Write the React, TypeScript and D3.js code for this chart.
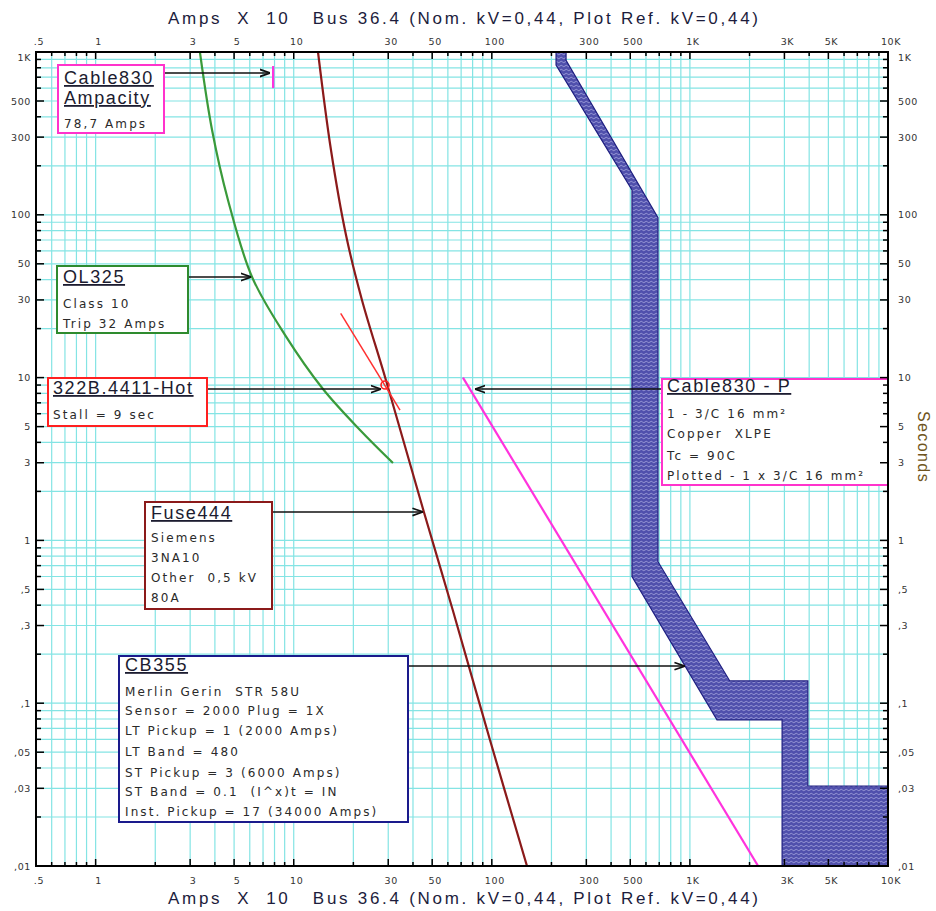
import React from 'react'
import * as d3 from 'd3'

// axis ticks
const xTickValues = [0.5, 1, 3, 5, 10, 30, 50, 100, 300, 500, 1000, 3000, 5000, 10000]
const xTickLabels = ['.5', '1', '3', '5', '10', '30', '50', '100', '300', '500', '1K', '3K', '5K', '10K']
const yTickValues = [1000, 500, 300, 100, 50, 30, 10, 5, 3, 1, 0.5, 0.3, 0.1, 0.05, 0.03, 0.01]
const yTickLabels = ['1K', '500', '300', '100', '50', '30', '10', '5', '3', '1', ',5', ',3', ',1', ',05', ',03', ',01']

// curves: [amps x10, seconds]
const ol325 = [
  [3.36, 1000], [3.87, 332], [4.66, 123], [6.16, 41.5], [9.03, 18.3],
  [14.05, 8.51], [21.6, 4.77], [31.7, 2.99]
]
const fuse444 = [
  [13.26, 1000], [15.42, 250], [18.36, 75.1], [22.1, 30], [29.2, 9.67],
  [45.4, 1.495], [63.5, 0.374], [97.9, 0.0594], [150.5, 0.01]
]
const stallLine = [[17.26, 24.8], [34.4, 6.32]]
const stallPoint = [28.9, 9]
const cableDamage = [[71.5, 10], [2210, 0.01]]
const cableAmpacity = [[7.87, 820], [7.87, 600]]
const cbMin = [[211, 1000], [211, 830], [510, 142], [510, 0.6], [1370, 0.079], [2920, 0.079], [2920, 0.01]]
const cbMax = [[237, 1000], [237, 890], [690, 96], [690, 0.74], [1590, 0.137], [3940, 0.137], [3940, 0.031], [10000, 0.031], [10000, 0.01]]

const titleText = 'Amps  X  10   Bus 36.4 (Nom. kV=0,44, Plot Ref. kV=0,44)'

// annotation boxes
const notes = [
  { box: [58, 65, 106, 68], color: '#ff33cc', tx: 64, titles: ['Cable830', 'Ampacity'], titleY: [84, 104], lines: ['78,7 Amps'], lineY: [128], target: [7.59, 743], from: 'right' },
  { box: [57, 266, 131, 67], color: '#2e8b2e', tx: 63, titles: ['OL325'], titleY: [283], lines: ['Class 10', 'Trip 32 Amps'], lineY: [308, 328], target: [6.1, 41.5], from: 'right' },
  { box: [48, 378, 159, 48], color: '#ff2020', tx: 53, titles: ['322B.4411-Hot'], titleY: [394], lines: ['Stall = 9 sec'], lineY: [419], target: [27.6, 8.5], from: 'right' },
  { box: [145, 502, 127, 107], color: '#8b1a1a', tx: 151, titles: ['Fuse444'], titleY: [519], lines: ['Siemens', '3NA10', 'Other  0,5 kV', '80A'], lineY: [542, 562, 582, 602], target: [44.9, 1.495], from: 'right' },
  { box: [119, 656, 289, 166], color: '#1a1a8c', tx: 125, titles: ['CB355'], titleY: [671], lines: ['Merlin Gerin  STR 58U', 'Sensor = 2000 Plug = 1X', 'LT Pickup = 1 (2000 Amps)', 'LT Band = 480', 'ST Pickup = 3 (6000 Amps)', 'ST Band = 0.1  (I^x)t = IN', 'Inst. Pickup = 17 (34000 Amps)'], lineY: [696, 715, 735, 756, 777, 796, 816], target: [944, 0.169], from: 'right' },
  { box: [662, 379, 226, 106], color: '#ff33cc', tx: 667, titles: ['Cable830 - P'], titleY: [392], lines: ['1 - 3/C 16 mm²', 'Copper  XLPE', 'Tc = 90C', 'Plotted - 1 x 3/C 16 mm²'], lineY: [418, 438, 460, 480], target: [82.2, 8.5], from: 'left' }
]

const minorSteps = (lo: number, hi: number) => {
  const out: number[] = []
  for (let e = -3; e <= 5; e++) {
    for (let m = 1; m <= 9; m++) {
      const v = m * Math.pow(10, e)
      if (v >= lo * 0.999 && v <= hi * 1.001) out.push(+v.toPrecision(3))
    }
  }
  return out
}

export default function App() {
  const W = 936
  const H = 911
  const left = 36, right = 888, top = 52, bottom = 866
  const x = d3.scaleLog().domain([0.5, 10000]).range([left, right])
  const y = d3.scaleLog().domain([0.01, 1000]).range([bottom, top])

  const xMinor = minorSteps(0.5, 10000)
  const yMinor = minorSteps(0.01, 1000)

  const curve = d3.line<number[]>().x(d => x(d[0])).y(d => y(d[1])).curve(d3.curveCatmullRom.alpha(0.5))
  const straight = d3.line<number[]>().x(d => x(d[0])).y(d => y(d[1]))

  const bandPts = [...cbMin, ...cbMax.slice().reverse()]
  const bandPath = straight(bandPts) + 'Z'

  const gridColor = '#84e4e4'
  const textColor = '#2a2a2a'
  const detailFont = '"DejaVu Sans", sans-serif'
  const titleFont = '"Liberation Sans", Arial, sans-serif'

  return (
    <svg width={W} height={H} style={{ position: 'absolute', left: 0, top: 0, background: '#fff' }}>
      <defs>
        <clipPath id="plotClip">
          <rect x={left} y={top} width={right - left} height={bottom - top} />
        </clipPath>
        <pattern id="cbHatch" width="5" height="4" patternUnits="userSpaceOnUse">
          <rect width="5" height="4" fill="#5050ac" />
          <path d="M0,2 Q1.25,0.6 2.5,2 T5,2" stroke="#a8a8e0" strokeWidth="0.8" fill="none" />
        </pattern>
        <marker id="arrow" viewBox="0 0 10 10" refX="10" refY="5" markerWidth="7" markerHeight="7" orient="auto-start-reverse">
          <path d="M0,1.5 L10,5 L0,8.5" fill="none" stroke="#111" strokeWidth="1.6" />
        </marker>
      </defs>
      <rect width={W} height={H} fill="#fff" />

      {/* grid */}
      <g stroke={gridColor} strokeWidth={1.2}>
        {xMinor.map(v => (
          <line key={'gx' + v} x1={x(v)} x2={x(v)} y1={top} y2={bottom} />
        ))}
        {yMinor.map(v => (
          <line key={'gy' + v} x1={left} x2={right} y1={y(v)} y2={y(v)} />
        ))}
      </g>

      <g clipPath="url(#plotClip)">
        {/* breaker band */}
        <path d={bandPath} fill="url(#cbHatch)" stroke="#1e1e80" strokeWidth={1.2} />
        {/* cable damage */}
        <path d={straight(cableDamage) || ''} fill="none" stroke="#ff33dd" strokeWidth={2.2} />
        <path d={straight(cableAmpacity) || ''} fill="none" stroke="#ff33dd" strokeWidth={2.2} />
        {/* overload */}
        <path d={curve(ol325) || ''} fill="none" stroke="#3a9a3a" strokeWidth={2.2} />
        {/* fuse */}
        <path d={curve(fuse444) || ''} fill="none" stroke="#8b1a1a" strokeWidth={2.2} />
        {/* motor stall */}
        <path d={straight(stallLine) || ''} fill="none" stroke="#ff3030" strokeWidth={1.5} />
        <circle cx={x(stallPoint[0])} cy={y(stallPoint[1])} r={4} fill="none" stroke="#ff2020" strokeWidth={1.6} />
      </g>

      {/* annotations */}
      {notes.map((n, i) => {
        const [bx, by, bw, bh] = n.box
        const ay = y(n.target[1])
        const ax = x(n.target[0])
        const sx = n.from === 'right' ? bx + bw : bx
        return (
          <g key={'n' + i}>
            <line x1={sx} y1={ay} x2={ax} y2={ay} stroke="#111" strokeWidth={1.5} markerEnd="url(#arrow)" />
            <rect x={bx} y={by} width={bw} height={bh} fill="#fff" stroke={n.color} strokeWidth={2} />
            {n.titles.map((t, j) => (
              <text key={'t' + j} x={n.tx} y={n.titleY[j]} fontFamily={titleFont} fontSize={18} letterSpacing={1.6}
                fill="#1c1c30" style={{ textDecoration: 'underline', whiteSpace: 'pre' }}>{t}</text>
            ))}
            {n.lines.map((t, j) => (
              <text key={'l' + j} x={n.tx} y={n.lineY[j]} fontFamily={detailFont} fontSize={12} letterSpacing={2.1}
                fill={textColor} style={{ whiteSpace: 'pre' }}>{t}</text>
            ))}
          </g>
        )
      })}

      {/* frame */}
      <rect x={left} y={top} width={right - left} height={bottom - top} fill="none" stroke="#000" strokeWidth={2} />

      {/* ticks */}
      <g stroke="#000" strokeWidth={1.5}>
        {xMinor.map(v => {
          const len = xTickValues.includes(v) ? 7 : 4
          return (
            <g key={'tx' + v}>
              <line x1={x(v)} x2={x(v)} y1={top} y2={top + len} />
              <line x1={x(v)} x2={x(v)} y1={bottom} y2={bottom - len} />
            </g>
          )
        })}
        {yMinor.map(v => {
          const len = yTickValues.includes(v) ? 8 : 5
          return (
            <g key={'ty' + v}>
              <line x1={left} x2={left + len} y1={y(v)} y2={y(v)} />
              <line x1={right} x2={right - len} y1={y(v)} y2={y(v)} />
            </g>
          )
        })}
      </g>

      {/* tick labels */}
      <g fontFamily={detailFont} fontSize={9.5} fill="#333" letterSpacing={0.6}>
        {xTickValues.map((v, i) => (
          <g key={'xl' + v}>
            <text x={x(v) + 3} y={top - 7} textAnchor="middle">{xTickLabels[i]}</text>
            <text x={x(v) + 3} y={bottom + 18} textAnchor="middle">{xTickLabels[i]}</text>
          </g>
        ))}
        {yTickValues.map((v, i) => {
          const yy = y(v) + (v === 1000 ? 9 : 3.5)
          return (
            <g key={'yl' + v}>
              <text x={31} y={yy} textAnchor="end">{yTickLabels[i]}</text>
              <text x={898} y={yy} textAnchor="start">{yTickLabels[i]}</text>
            </g>
          )
        })}
      </g>

      {/* axis titles */}
      <text x={463} y={24} textAnchor="middle" fontFamily={titleFont} fontSize={17} fill="#1c1c3c"
        textLength={590} lengthAdjust="spacing" style={{ whiteSpace: 'pre' }}>{titleText}</text>
      <text x={463} y={904} textAnchor="middle" fontFamily={titleFont} fontSize={17} fill="#1c1c3c"
        textLength={590} lengthAdjust="spacing" style={{ whiteSpace: 'pre' }}>{titleText}</text>
      <text transform="translate(918,447) rotate(90)" textAnchor="middle" fontFamily={titleFont} fontSize={16}
        letterSpacing={1.4} fill="#6e5420">Seconds</text>
    </svg>
  )
}
